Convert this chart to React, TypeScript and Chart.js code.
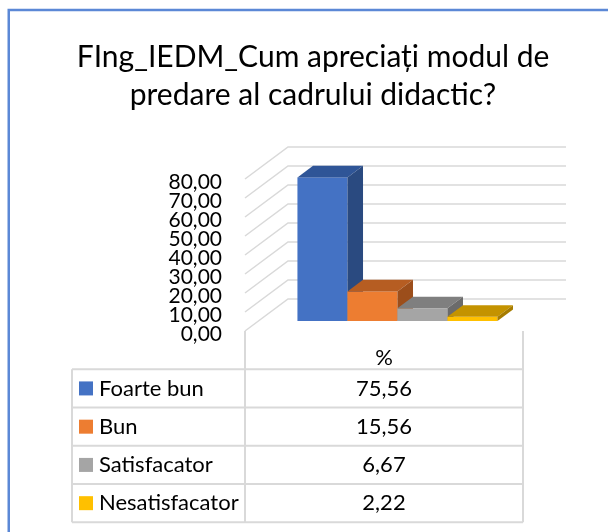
import React, { useEffect, useRef } from "react";
import { Chart, registerables } from "chart.js";

Chart.register(...registerables);

// ---- data ----
const TITLE_LINES = ["FIng_IEDM_Cum apreciați modul de", "predare al cadrului didactic?"];
const CATEGORIES = ["%"];
const SERIES_NAMES = ["Foarte bun", "Bun", "Satisfacator", "Nesatisfacator"];
const SERIES_VALUES = [75.56, 15.56, 6.67, 2.22];
const Y_TICKS = [0, 10, 20, 30, 40, 50, 60, 70, 80];

// ---- styles ----
const FRONT_COLORS = ["#4472C4", "#ED7D31", "#A5A5A5", "#FFC000"];
const TOP_COLORS = ["#2F5597", "#B65D22", "#7F7F7F", "#C49300"];
const SIDE_COLORS = ["#2A4A80", "#9C4E1B", "#6B6B6B", "#A67C00"];
const FONT = "Lato, 'Open Sans', sans-serif";
const GRID = "#D9D9D9";
const DEPTH_DX = 43;
const DEPTH_DY = -32;
const BAR_FRONT = 0.3125;
const BAR_BACK = 0.675;
const TABLE_LEFT = 72;
const HEADER_H = 38.3;
const ROW_H = 38.25;

const fmt = (v: number) => v.toFixed(2).replace(".", ",");

const threeD = {
  id: "threeD",
  beforeDraw(chart: any) {
    const ctx = chart.ctx;
    ctx.save();
    ctx.fillStyle = "#ffffff";
    ctx.fillRect(0, 0, chart.width, chart.height);
    ctx.strokeStyle = "#5B88D6";
    ctx.lineWidth = 2.5;
    ctx.strokeRect(8.75, 10, chart.width + 40, chart.height + 40);
    ctx.restore();
  },
  beforeDatasetsDraw(chart: any) {
    const { ctx, chartArea: a, scales } = chart;
    const ys = scales.y;
    ctx.save();
    ctx.strokeStyle = GRID;
    ctx.lineWidth = 1.5;
    ctx.beginPath();
    for (const t of Y_TICKS) {
      const py = ys.getPixelForValue(t);
      ctx.moveTo(a.left, py);
      ctx.lineTo(a.left + DEPTH_DX, py + DEPTH_DY);
      ctx.lineTo(a.right + DEPTH_DX, py + DEPTH_DY);
    }
    ctx.stroke();
    ctx.restore();
  },
  beforeDatasetDraw() {
    return false;
  },
  afterDatasetsDraw(chart: any) {
    const ctx = chart.ctx;
    const o1x = DEPTH_DX * BAR_FRONT, o1y = DEPTH_DY * BAR_FRONT;
    const o2x = DEPTH_DX * BAR_BACK, o2y = DEPTH_DY * BAR_BACK;
    ctx.save();
    chart.data.datasets.forEach((_: any, di: number) => {
      const meta = chart.getDatasetMeta(di);
      meta.data.forEach((el: any) => {
        const { x, y, base, width } = el.getProps(["x", "y", "base", "width"], true);
        const l = x - width / 2, r = x + width / 2;
        ctx.fillStyle = FRONT_COLORS[di];
        ctx.fillRect(l + o1x, y + o1y, width, base - y);
        ctx.fillStyle = TOP_COLORS[di];
        ctx.beginPath();
        ctx.moveTo(l + o1x, y + o1y);
        ctx.lineTo(r + o1x, y + o1y);
        ctx.lineTo(r + o2x, y + o2y);
        ctx.lineTo(l + o2x, y + o2y);
        ctx.closePath();
        ctx.fill();
        ctx.fillStyle = SIDE_COLORS[di];
        ctx.beginPath();
        ctx.moveTo(r + o1x, y + o1y);
        ctx.lineTo(r + o2x, y + o2y);
        ctx.lineTo(r + o2x, base + o2y);
        ctx.lineTo(r + o1x, base + o1y);
        ctx.closePath();
        ctx.fill();
      });
    });
    ctx.restore();
  },
  afterDraw(chart: any) {
    const { ctx, chartArea: a } = chart;
    const top = a.bottom;
    const rowsTop = top + HEADER_H;
    const bottom = rowsTop + ROW_H * SERIES_NAMES.length;
    ctx.save();
    ctx.strokeStyle = GRID;
    ctx.lineWidth = 2;
    ctx.beginPath();
    for (let i = 0; i <= SERIES_NAMES.length; i++) {
      const yy = rowsTop + i * ROW_H;
      ctx.moveTo(TABLE_LEFT, yy);
      ctx.lineTo(a.right, yy);
    }
    ctx.moveTo(TABLE_LEFT, rowsTop);
    ctx.lineTo(TABLE_LEFT, bottom);
    ctx.moveTo(a.left, top);
    ctx.lineTo(a.left, bottom);
    ctx.moveTo(a.right, top);
    ctx.lineTo(a.right, bottom);
    ctx.stroke();

    ctx.font = `22px ${FONT}`;
    ctx.textBaseline = "middle";
    SERIES_NAMES.forEach((name, i) => {
      const cy = rowsTop + i * ROW_H + ROW_H / 2;
      ctx.fillStyle = FRONT_COLORS[i];
      ctx.fillRect(79, cy - 7, 14, 14);
      ctx.fillStyle = "#000";
      ctx.textAlign = "left";
      ctx.fillText(name, 99, cy);
      ctx.textAlign = "center";
      ctx.fillText(fmt(SERIES_VALUES[i]), (a.left + a.right) / 2, cy);
    });
    ctx.restore();
  },
};

export default function App() {
  const ref = useRef<HTMLCanvasElement | null>(null);
  useEffect(() => {
    if (!ref.current) return;
    const chart = new Chart(ref.current, {
      type: "bar",
      data: {
        labels: CATEGORIES,
        datasets: SERIES_NAMES.map((name, i) => ({
          label: name,
          data: [SERIES_VALUES[i]],
          backgroundColor: FRONT_COLORS[i],
          categoryPercentage: 200 / 278,
          barPercentage: 1,
          yAxisID: "y",
        })),
      },
      options: {
        animation: false,
        responsive: false,
        devicePixelRatio: 1,
        layout: { padding: { left: 20, right: 2, top: 0, bottom: 0 } },
        plugins: {
          legend: { display: false },
          tooltip: { enabled: false },
          title: {
            display: true,
            text: TITLE_LINES,
            color: "#000",
            font: { family: FONT, size: 30, weight: "normal", lineHeight: 38 / 30 },
            padding: { top: 38, bottom: 65 },
          },
        },
        scales: {
          x: {
            grid: { display: false },
            border: { display: false },
            ticks: { color: "#000", font: { family: FONT, size: 22 }, padding: 6 },
            afterFit: (s: any) => { s.height = 201; },
          },
          y: {
            min: 0,
            max: 80,
            grid: { display: false },
            border: { display: false },
            afterBuildTicks: (s: any) => { s.ticks = Y_TICKS.map((v) => ({ value: v })); },
            afterFit: (s: any) => { s.width = 225; },
            ticks: {
              autoSkip: false,
              color: "#000",
              padding: 15,
              labelOffset: 3,
              font: { family: FONT, size: 21 },
              callback: (v: any) => fmt(Number(v)),
            },
          },
          yRight: {
            position: "right",
            display: true,
            grid: { display: false },
            border: { display: false },
            ticks: { display: false },
            afterFit: (s: any) => { s.width = 83; },
          },
        },
      },
      plugins: [threeD],
    });
    return () => chart.destroy();
  }, []);
  return (
    <div style={{ position: "fixed", left: 0, top: 0, width: 608, height: 532, background: "#fff" }}>
      <canvas ref={ref} width={608} height={532} style={{ display: "block" }} />
    </div>
  );
}
